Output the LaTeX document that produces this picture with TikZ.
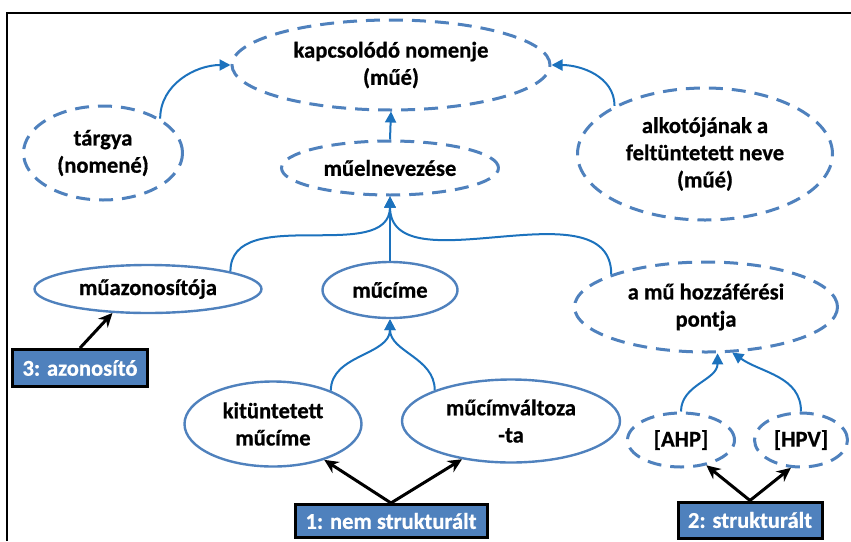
\documentclass[tikz,border=0pt]{standalone}
\usepackage{fontspec}
\setmainfont{Carlito}[FakeBold=0.7]
\newfontfamily\tagfont{Carlito}[BoldFont={Carlito Bold}, BoldFeatures={FakeBold=0.6}]
\usetikzlibrary{arrows.meta}
\usetikzlibrary{shapes.geometric}
\definecolor{ellblue}{HTML}{4F81BD}
\definecolor{linkblue}{HTML}{1C72BD}
\definecolor{boxblue}{HTML}{4F81BD}
\tikzset{
  every node/.style={font=\fontsize{11.3}{13.6}\selectfont\bfseries, align=center},
  dashell/.style={ellipse, draw=ellblue, line width=1.5pt, dash pattern=on 7pt off 4.5pt, inner sep=0pt},
  solidell/.style={ellipse, draw=ellblue, line width=1.2pt, inner sep=0pt},
  tagbox/.style={rectangle, fill=boxblue, draw=black, line width=1.5pt, text=white,
    font=\fontsize{11.3}{13.6}\selectfont\tagfont\bfseries, inner sep=0pt},
  link/.style={draw=linkblue, line width=1pt, -{Triangle[length=5.5pt,width=5.5pt]}},
  pointer/.style={draw=black, line width=1.5pt, -{Stealth[length=7pt,width=6.5pt]}}
}

\begin{document}
\begin{tikzpicture}[x=0.5pt,y=-0.5pt]
  \useasboundingbox (0,0) rectangle (851,541);

  % Keret
  \draw[line width=1pt] (7,541) -- (7,13) -- (851,13);

  % Felső szint
  \node[dashell, minimum width=159pt, minimum height=45pt] (kapcs) at (391,65) {kapcsolódó nomenje\\(műé)};
  \node[dashell, minimum width=79.5pt, minimum height=47pt] (targy) at (103,153) {tárgya\\(nomené)};
  \node[dashell, minimum width=108.5pt, minimum height=27pt] (mnev) at (390,168) {műelnevezése};
  \node[dashell, minimum width=127.5pt, minimum height=66pt] (alkot) at (705,154) {alkotójának a\\feltüntetett neve\\(műé)};

  % Középső szint
  \node[solidell, minimum width=113.5pt, minimum height=24pt] (mazon) at (148,289) {műazonosítója};
  \node[solidell, minimum width=67.5pt, minimum height=28pt] (mcime) at (390,290) {műcíme};
  \node[dashell, minimum width=131.5pt, minimum height=45pt] (hozz) at (706,307) {a mű hozzáférési\\pontja};

  % Alsó szint
  \node[solidell, minimum width=88.5pt, minimum height=42.5pt] (kit) at (273,424) {kitüntetett\\műcíme};
  \node[solidell, minimum width=109pt, minimum height=41.5pt] (mcv) at (511,421) {műcímváltoza\\-ta};
  \node[dashell, minimum width=53.5pt, minimum height=27pt] (ahp) at (681,440) {[AHP]};
  \node[dashell, minimum width=46.5pt, minimum height=27pt] (hpv) at (801,440) {[HPV]};

  % Címkék
  \node[tagbox, minimum width=67.5pt, minimum height=18.5pt] (azon) at (80,368) {3: azonosító};
  \node[tagbox, minimum width=96pt, minimum height=16.5pt] (nstr) at (391,521) {1: nem strukturált};
  \node[tagbox, minimum width=72pt, minimum height=18pt] (str) at (750,520) {2: strukturált};

  % Kék kapcsolatok
  \draw[link] (targy.31) to[out=90,in=180] (kapcs.west);
  \draw[link] (alkot.152) to[out=90,in=0] (kapcs.east);
  \draw[link] (mnev.north) -- (kapcs.south);
  \draw[link] (mazon.12) to[out=90,in=-90] (mnev.south);
  \draw[link] (mcime.north) -- (mnev.south);
  \draw[link] (hozz.161) to[out=90,in=-90] (mnev.south);
  \draw[link] (kit.30) to[out=90,in=-90] (mcime.south);
  \draw[link] (mcv.158) to[out=90,in=-90] (mcime.south);
  \draw[link] (ahp.north) to[out=90,in=-90] (hozz.284);
  \draw[link] (hpv.north) to[out=90,in=-35] (hozz.300);

  % Fekete nyilak
  \foreach \from/\to in {azon/mazon.214, nstr/kit.325, nstr/mcv.218, str/ahp.315, str/hpv.250}
    \draw[pointer] (\from.north) -- (\to);

\end{tikzpicture}
\end{document}
